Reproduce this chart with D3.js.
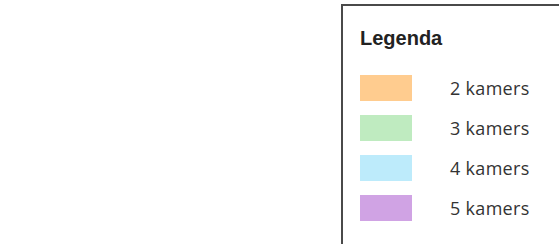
<!DOCTYPE html>
<html><head><meta charset="utf-8">
<script src="https://cdn.jsdelivr.net/npm/d3@7"></script>
<style>html,body{margin:0;padding:0;background:#fff;overflow:hidden}</style>
</head><body>
<svg id="c" width="559" height="244"></svg>
<script>
const legendTitle = "Legenda";
const categories = ["2 kamers", "3 kamers", "4 kamers", "5 kamers"];
const colors = ["#FFCC8F", "#BFEBC0", "#BDEBFB", "#D0A3E4"];

const svg = d3.select("#c");
svg.append("rect").attr("x", 342).attr("y", 5).attr("width", 260).attr("height", 280)
  .attr("fill", "#fff").attr("stroke", "#4a4a4a").attr("stroke-width", 2);
svg.append("text").attr("x", 360).attr("y", 45).text(legendTitle)
  .attr("font-family", "Liberation Sans, Arial, sans-serif").attr("font-weight", "bold")
  .attr("font-size", 20).attr("fill", "#222");

const y = d3.scaleBand().domain(categories).range([68, 228]).paddingInner(0.35).paddingOuter(0.175);
const color = d3.scaleOrdinal().domain(categories).range(colors);
const g = svg.append("g").selectAll("g").data(categories).join("g");
g.append("rect").attr("x", 360).attr("y", d => y(d)).attr("width", 52).attr("height", y.bandwidth())
  .attr("fill", d => color(d));
g.append("text").attr("x", 450).attr("y", d => y(d) + y.bandwidth() / 2 + 1).attr("dy", "0.35em")
  .text(d => d).attr("font-family", "Open Sans, sans-serif").attr("font-size", 18)
  .attr("letter-spacing", 0.3).attr("fill", "#333");
</script>
</body></html>
